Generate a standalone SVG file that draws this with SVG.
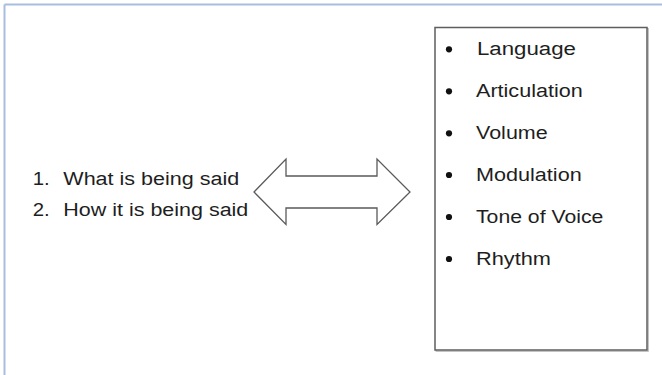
<svg xmlns="http://www.w3.org/2000/svg" width="662" height="375" viewBox="0 0 662 375">
<style>
.t{font-family:"Liberation Sans",Arial,sans-serif;font-size:18px;fill:#1e1e1e}
.frame{stroke:#a9bde0;stroke-width:2;fill:none}
</style>
<rect x="0" y="0" width="662" height="375" fill="#ffffff"/>
<g id="frame">
<line class="frame" x1="4.5" y1="4.5" x2="662" y2="4.5"/>
<line class="frame" x1="4.5" y1="4.5" x2="4.5" y2="375"/>
</g>
<g id="left-list">
<text class="t" x="32.7" y="185" textLength="17" lengthAdjust="spacingAndGlyphs">1.</text>
<text class="t" x="63.3" y="185" textLength="176" lengthAdjust="spacingAndGlyphs">What is being said</text>
<text class="t" x="32.7" y="215.5" textLength="17" lengthAdjust="spacingAndGlyphs">2.</text>
<text class="t" x="63.3" y="215.5" textLength="185" lengthAdjust="spacingAndGlyphs">How it is being said</text>
</g>
<g id="connectors">
<polygon id="double-arrow" points="254,192 286,159 286,176 377,176 377,159 410,192 377,224.5 377,208 286,208 286,224.5" fill="#ffffff" stroke="#5a5a5a" stroke-width="1.3" stroke-linejoin="miter"/>
</g>
<g id="right-list">
<rect x="436.2" y="28.7" width="212" height="322.5" fill="none" stroke="#b5b5b5" stroke-width="1.2"/>
<rect x="435" y="27.5" width="212" height="322.5" fill="#ffffff" stroke="#5e5e5e" stroke-width="1.5"/>
<g fill="#111">
<circle cx="449" cy="49.3" r="3.1"/>
<circle cx="449" cy="91.3" r="3.1"/>
<circle cx="449" cy="133.3" r="3.1"/>
<circle cx="449" cy="175" r="3.1"/>
<circle cx="449" cy="217" r="3.1"/>
<circle cx="449" cy="259" r="3.1"/>
</g>
<text class="t" x="477" y="55" textLength="99" lengthAdjust="spacingAndGlyphs">Language</text>
<text class="t" x="476" y="97" textLength="106.7" lengthAdjust="spacingAndGlyphs">Articulation</text>
<text class="t" x="476" y="139" textLength="71.7" lengthAdjust="spacingAndGlyphs">Volume</text>
<text class="t" x="476" y="180.7" textLength="105.7" lengthAdjust="spacingAndGlyphs">Modulation</text>
<text class="t" x="476" y="222.7" textLength="127.3" lengthAdjust="spacingAndGlyphs">Tone of Voice</text>
<text class="t" x="476" y="264.7" textLength="75" lengthAdjust="spacingAndGlyphs">Rhythm</text>
</g>
</svg>
